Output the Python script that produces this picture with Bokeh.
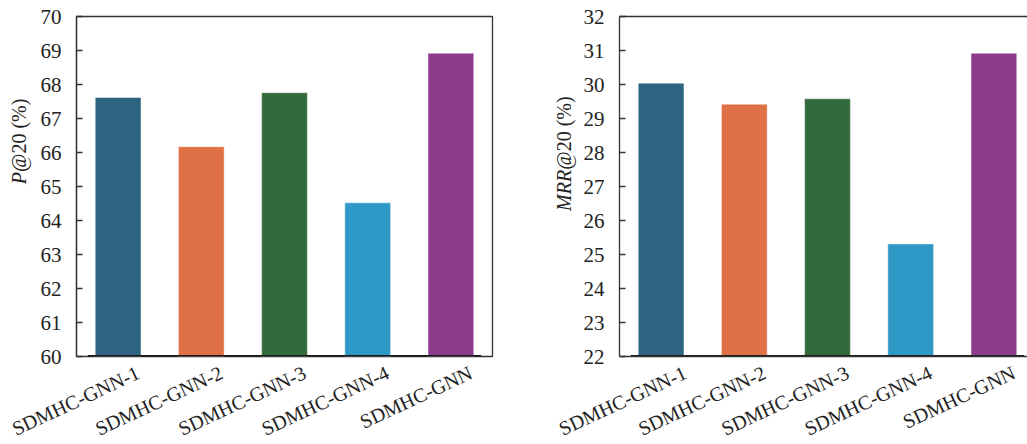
import math
from bokeh.plotting import figure
from bokeh.layouts import row
from bokeh.models import LinearAxis, FixedTicker, Range1d, ColumnDataSource
from bokeh.core.properties import value
from bokeh.embed import file_html
from bokeh.resources import INLINE

# ---- data ---------------------------------------------------------------
categories = ["SDMHC-GNN-1", "SDMHC-GNN-2", "SDMHC-GNN-3", "SDMHC-GNN-4", "SDMHC-GNN"]
precision_20 = [67.62, 66.17, 67.76, 64.52, 68.92]
mrr_20 = [30.04, 29.42, 29.58, 25.31, 30.92]
bar_colors = ["#2E6382", "#E07045", "#336A3B", "#2E98C7", "#8E3B8E"]
p_ticks = [60, 61, 62, 63, 64, 65, 66, 67, 68, 69, 70]
mrr_ticks = [22, 23, 24, 25, 26, 27, 28, 29, 30, 31, 32]
y_titles = [("P", "@20 (%)"), ("MRR", "@20 (%)")]

FONT = "Liberation Serif"
TEXT = "#222222"
FRAME = "#333333"
BAR_W = 0.55
UNIT_PX = 83.2          # pixels per category slot
LABEL_SHIFT = 20 / UNIT_PX
W, H = 1027, 444


def make_panel(values, ticks, frame_w, left_border, right_border, boxed):
    n = len(categories)
    xs = [i + 0.5 for i in range(n)]
    x_end = frame_w / UNIT_PX
    p = figure(frame_width=frame_w, frame_height=340,
               x_range=Range1d(0, x_end), y_range=Range1d(ticks[0], ticks[-1]),
               output_backend="svg", toolbar_location=None,
               min_border_left=left_border, min_border_right=right_border,
               min_border_top=16, min_border_bottom=88,
               x_axis_location=None, y_axis_location=None)
    p.grid.visible = False
    p.border_fill_color = None
    p.background_fill_color = "white"

    src = ColumnDataSource(dict(x=xs, top=values, color=bar_colors,
                                base=[ticks[0]] * n))
    p.vbar(x="x", top="top", bottom="base", width=BAR_W, source=src,
           fill_color="color", line_color="white", line_alpha=0.45,
           line_width=1)

    # dark baseline under the bars
    pad = 0.09
    p.segment(x0=[xs[0] - BAR_W / 2 - pad], x1=[xs[-1] + BAR_W / 2 + pad],
              y0=[ticks[0]], y1=[ticks[0]], line_color="#1a1a1a",
              line_width=3)

    yaxis = LinearAxis(ticker=FixedTicker(ticks=ticks))
    yaxis.major_tick_in = 6
    yaxis.major_tick_out = 0
    yaxis.minor_tick_in = 0
    yaxis.minor_tick_out = 0
    yaxis.major_tick_line_color = FRAME
    yaxis.axis_line_color = FRAME
    yaxis.axis_line_width = 1.3
    yaxis.major_tick_line_width = 1.3
    yaxis.major_label_text_font = FONT
    yaxis.major_label_text_font_size = "21px"
    yaxis.major_label_text_color = TEXT
    yaxis.major_label_standoff = 15
    p.add_layout(yaxis, "left")

    # category axis: names rotated, their ends just right of each bar centre
    label_pos = [x + LABEL_SHIFT for x in xs]
    xaxis = LinearAxis(ticker=FixedTicker(ticks=label_pos))
    xaxis.major_label_overrides = {pos: cat for pos, cat in zip(label_pos, categories)}
    xaxis.major_tick_in = 0
    xaxis.major_tick_out = 0
    xaxis.minor_tick_in = 0
    xaxis.minor_tick_out = 0
    xaxis.major_label_orientation = math.radians(25)
    xaxis.major_label_text_font = FONT
    xaxis.major_label_text_font_size = "20px"
    xaxis.major_label_text_color = TEXT
    xaxis.major_label_standoff = 15
    xaxis.axis_line_color = None if boxed else FRAME
    xaxis.axis_line_width = 1.3
    p.add_layout(xaxis, "below")

    if boxed:
        p.outline_line_color = FRAME
        p.outline_line_width = 1.3
    else:
        p.outline_line_color = None
        top = LinearAxis(ticker=FixedTicker(ticks=[]))
        top.major_tick_in = 0
        top.major_tick_out = 0
        top.minor_tick_in = 0
        top.minor_tick_out = 0
        top.major_label_text_font_size = "0px"
        top.axis_line_color = FRAME
        top.axis_line_width = 1.3
        p.add_layout(top, "above")
    return p


p1 = make_panel(precision_20, p_ticks, frame_w=416, left_border=76,
                right_border=63, boxed=True)
p2 = make_panel(mrr_20, mrr_ticks, frame_w=408, left_border=64,
                right_border=0, boxed=False)

# transparent layer on top of both panels carrying the rotated y titles
# (italic metric name followed by the upright "@20 (%)")
ov = figure(width=W, height=H, x_range=Range1d(0, W), y_range=Range1d(H, 0),
            output_backend="svg", toolbar_location=None, min_border=0,
            x_axis_location=None, y_axis_location=None,
            margin=(0, 0, 0, -W))
ov.grid.visible = False
ov.outline_line_color = None
ov.border_fill_color = None
ov.background_fill_color = None
title_x = [18, 563]
title_join_y = [208, 205]
ov.text(x=title_x, y=title_join_y, text=[t[0] for t in y_titles],
        angle=math.pi / 2, text_align="right", text_baseline="middle",
        text_font=value(FONT), text_font_style="italic",
        text_font_size="20px", text_color=TEXT)
ov.text(x=title_x, y=title_join_y, text=[t[1] for t in y_titles],
        angle=math.pi / 2, text_align="left", text_baseline="middle",
        text_font=value(FONT), text_font_size="20px", text_color=TEXT)

layout = row(p1, p2, ov)
open("out.html", "w").write(file_html(layout, INLINE))
